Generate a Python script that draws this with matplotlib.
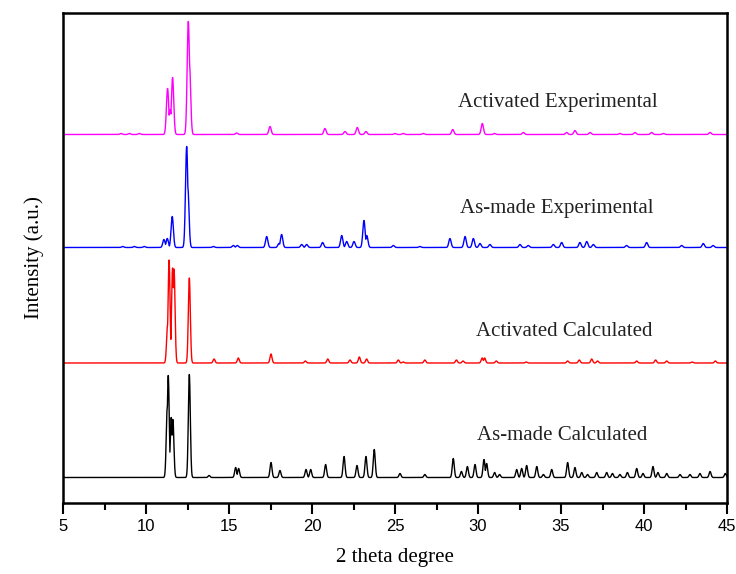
import numpy as np
import matplotlib
matplotlib.use("Agg")
import matplotlib.pyplot as plt

# peak positions (2 theta) and heights (arbitrary units)
black_pos = [11.28, 11.34, 11.52, 11.62, 12.61, 13.8, 15.4, 15.58, 17.53, 18.07,
             19.64, 19.92, 20.82, 21.93, 22.71, 23.25, 23.75, 25.3, 26.8, 28.51,
             29.0, 29.36, 29.82, 30.36, 30.52, 31.0, 31.3, 32.33, 32.63, 32.93,
             33.54, 33.94, 34.44, 35.4, 35.84, 36.25, 36.6, 37.15, 37.75, 38.1,
             38.55, 39.0, 39.56, 39.94, 40.54, 40.84, 41.37, 42.17, 42.77, 43.37,
             43.98, 44.9]
black_h = [70, 102, 60, 58, 103, 2, 10, 9, 15, 7,
           8, 8, 13, 21, 12, 21, 28, 4, 3, 19,
           6, 11, 13, 18, 14, 5, 3, 8, 9, 12,
           11, 3, 8, 15, 10, 5, 3, 5, 5, 4,
           3, 5, 9, 4, 11, 5, 4, 3, 3, 4,
           6, 4]

red_pos = [11.3, 11.39, 11.6, 11.69, 12.61, 14.1, 15.56, 17.53, 19.6, 20.95,
           22.29, 22.85, 23.29, 25.2, 25.5, 26.8, 28.7, 29.1, 30.25, 30.4,
           31.1, 32.9, 35.4, 36.1, 36.85, 37.2, 39.56, 40.7, 41.37, 42.9, 44.3]
red_h = [38, 103, 95, 94, 85, 4, 5, 9, 2, 4,
         3, 6, 4, 3, 1, 3, 3, 2, 5, 5,
         2, 1, 2, 3, 4, 2, 2, 3, 2, 1, 2]

blue_pos = [8.6, 9.3, 9.9, 11.08, 11.28, 11.58, 12.45, 12.52, 14.06, 15.26,
            15.5, 17.27, 18.01, 18.17, 19.38, 19.68, 20.64, 21.79, 22.09, 22.53,
            23.13, 23.3, 24.9, 26.5, 28.31, 29.22, 29.72, 30.12, 30.72, 32.53,
            33.03, 34.54, 35.04, 36.14, 36.55, 36.95, 38.95, 40.16, 42.27, 43.57,
            44.16]
blue_h = [1, 1, 1, 8, 9, 31, 101, 60, 1, 2,
          2, 11, 4, 13, 3, 3, 5, 12, 6, 6,
          27, 12, 2, 1, 9, 11, 9, 4, 3, 3,
          2, 3, 5, 5, 6, 3, 2, 5, 2, 4,
          2]

mag_pos = [8.5, 9.0, 9.6, 11.3, 11.45, 11.6, 12.55, 12.62, 15.46, 17.47,
           20.78, 21.99, 22.73, 23.25, 25.0, 25.5, 26.7, 28.48, 30.26, 31.0,
           32.73, 35.34, 35.84, 36.75, 38.55, 39.46, 40.46, 41.17, 43.98]
mag_h = [1, 1, 1, 46, 25, 57, 113, 70, 1.5, 8,
         6, 3, 7, 3, 1, 1, 1, 5, 11, 1,
         2, 2, 4, 2, 1, 2, 2, 1, 2]

labels = ["As-made Calculated", "Activated Calculated",
          "As-made Experimental", "Activated Experimental"]
colors = ["black", "#ff0000", "#0000ff", "#ff00ff"]
offsets = [25.5, 140, 255.5, 368.5]
widths = [0.06, 0.06, 0.07, 0.07]


def pattern(x, pos, h, w):
    # envelope of the peaks, so overlapping peaks keep their read heights
    y = np.zeros_like(x)
    for p, a in zip(pos, h):
        y = np.maximum(y, a * np.exp(-0.5 * ((x - p) / w) ** 2))
    return y


x = np.arange(5, 45.001, 0.01)
series = [(black_pos, black_h), (red_pos, red_h), (blue_pos, blue_h), (mag_pos, mag_h)]

fig = plt.figure(figsize=(7.36, 5.74), dpi=100)
ax = fig.add_axes([63 / 736, 71 / 574, 664 / 736, 490 / 574])

label_xy = [(35.06, 67), (35.18, 172), (34.76, 294), (34.8, 400)]
for (pos, h), c, off, w, lab, (tx, ty) in zip(series, colors, offsets, widths, labels, label_xy):
    ax.plot(x, pattern(x, pos, h, w) + off, color=c, lw=1)
    ax.text(tx, ty, lab, ha="center", va="center", fontsize=15,
            family="Liberation Serif", color="#222222")

ax.set_xlim(5, 45)
ax.set_ylim(0, 490)
ax.set_xticks(np.arange(5, 46, 5))
ax.set_xticks(np.arange(7.5, 45, 5), minor=True)
ax.set_yticks([])
ax.tick_params(axis="x", which="major", direction="out", length=8, width=1.5)
ax.tick_params(axis="x", which="minor", direction="out", length=5, width=1.5)
for lab in ax.get_xticklabels():
    lab.set_family(["Liberation Sans Narrow", "Liberation Sans"])
    lab.set_fontsize(12)
for s in ax.spines.values():
    s.set_linewidth(1.8)

ax.set_xlabel("2 theta degree", family="Liberation Serif", fontsize=15, labelpad=10)
ax.set_ylabel("Intensity (a.u.)", family="Liberation Serif", fontsize=15, labelpad=14)

fig.savefig("out.png", dpi=100)
